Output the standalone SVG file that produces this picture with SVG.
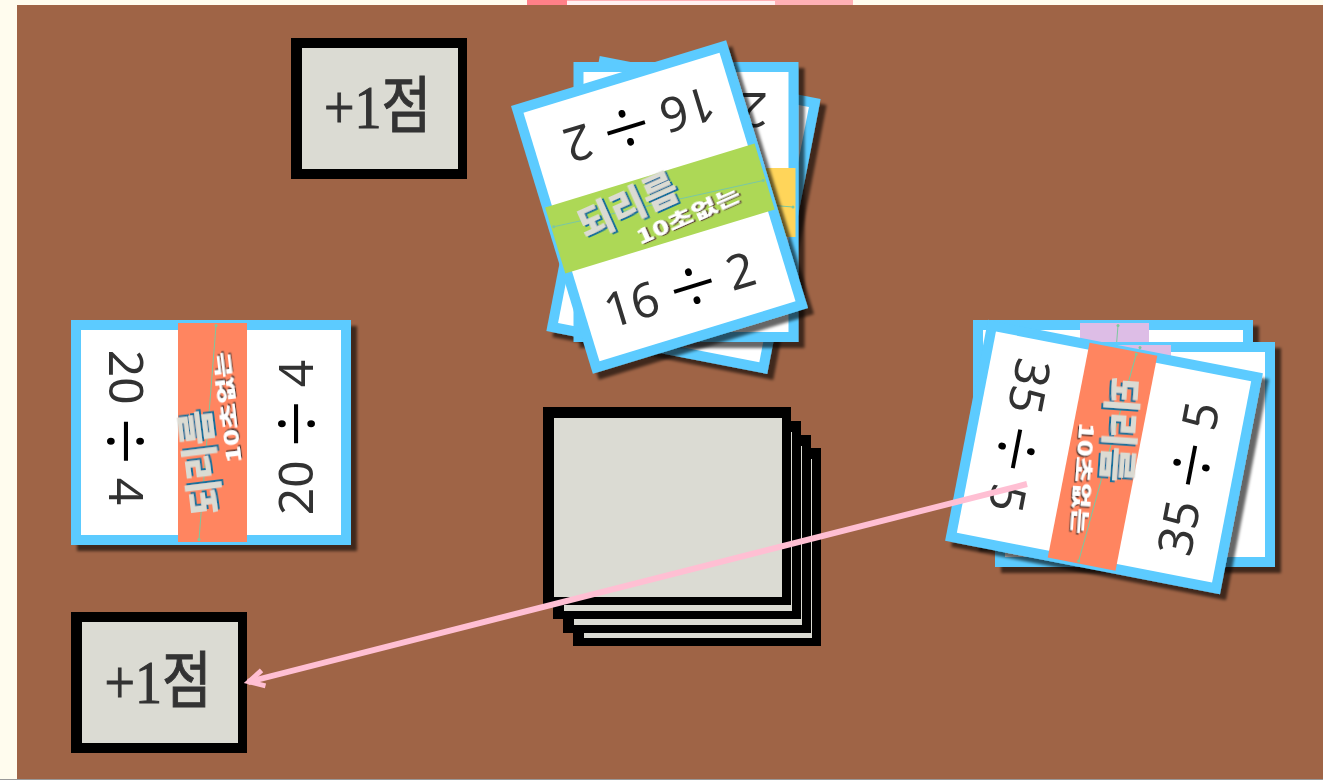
<svg xmlns="http://www.w3.org/2000/svg" xmlns:xlink="http://www.w3.org/1999/xlink" width="1323" height="780" viewBox="0 0 1323 780">
<style>
.num{font-family:"Noto Sans","Liberation Sans",sans-serif;font-size:48px;fill:#333;text-anchor:middle;word-spacing:0}
.div{font-size:84px;font-weight:300;fill:#000}
.pt{font-family:"Liberation Serif","Noto Sans CJK KR",serif;font-size:54px;fill:#333;stroke:#333;stroke-width:.9;text-anchor:middle}
.big{font-family:"Noto Sans CJK KR",sans-serif;font-weight:900;font-size:38px;fill:#DBDBD3;text-anchor:middle}
.small{font-family:"Noto Sans CJK KR",sans-serif;font-weight:900;font-size:26px;fill:#fff;text-anchor:middle}
.box{fill:#000}
.face{fill:#DBDBD3}
.guide{stroke:#7CC8A0;stroke-width:1;fill:none}
.dot{fill:#7CC8A0}
</style>
<defs>
<filter id="sh" x="-15%" y="-15%" width="130%" height="130%"><feDropShadow dx="6" dy="6" stdDeviation="1.5" flood-color="#000" flood-opacity=".6"/></filter>
<filter id="bs"><feDropShadow dx="2" dy="2" stdDeviation=".4" flood-color="#17719C"/></filter>
<filter id="ws"><feDropShadow dx="1.5" dy="1.5" stdDeviation=".5" flood-color="#5a3a30"/></filter>
<g id="base"><rect x="-112.5" y="-140" width="225" height="280" fill="#5BCBFF"/><rect x="-102.5" y="-130" width="205" height="260" fill="#fff"/></g>
<g id="guide"><path class="guide" d="M-107,-12L107,5"/><circle class="dot" cx="-107" cy="-12" r="1.5"/><circle class="dot" cx="107" cy="5" r="1.5"/></g>
<marker id="head" viewBox="-20 -12 24 24" refX="0" refY="0" markerWidth="24" markerHeight="24" markerUnits="userSpaceOnUse" orient="auto"><path d="M-16,-8L-1,0L-16,8" fill="none" stroke="#FFBFD3" stroke-width="5"/></marker>
</defs>
<rect width="1323" height="780" fill="#FFFCEE"/>
<rect x="17" y="5" width="1306" height="774" fill="#9F6446"/>
<rect y="779" width="1323" height="1" fill="#999"/>
<g id="top-strip"><rect x="527" width="326" height="5" fill="#FFB0B5"/><rect x="527" width="40" height="5" fill="#FF8088"/><rect x="567" y="1" width="208" height="4" fill="#FFF0F0"/></g>

<g id="score-top"><rect class="box" x="291" y="38" width="176" height="141"/><rect class="face" x="302" y="48" width="156" height="121"/><text class="pt" transform="translate(377.5,128) scale(1,1.15)">+1점</text></g>
<g id="score-left"><rect class="box" x="71" y="612" width="176" height="141"/><rect class="face" x="82" y="622" width="156" height="121"/><text class="pt" transform="translate(158,703) scale(1,1.15)">+1점</text></g>

<g id="draw-pile">
<rect class="box" x="573" y="448" width="248" height="198"/><rect class="face" x="584" y="459" width="228" height="179"/>
<rect class="box" x="563" y="435" width="248" height="198"/><rect class="face" x="574" y="446" width="228" height="179"/>
<rect class="box" x="553" y="421" width="248" height="198"/><rect class="face" x="564" y="432" width="228" height="179"/>
<rect class="box" x="543" y="407" width="248" height="198"/><rect class="face" x="554" y="418" width="228" height="179"/>
</g>

<g id="top-back-1" filter="url(#sh)"><g transform="translate(683.5,215) rotate(11)"><use href="#base"/></g></g>
<g id="top-back-2" filter="url(#sh)"><g transform="translate(686,202)"><use href="#base"/><rect x="-109.5" y="-34" width="219" height="69" fill="#FFD55A"/><use href="#guide"/><text class="num" transform="translate(68,-92) rotate(180)" y="17">2</text></g></g>
<g id="top-card" filter="url(#sh)"><g transform="translate(659.5,207) rotate(-17)"><use href="#base"/><rect x="-109.5" y="-33" width="219" height="69" fill="#ADD857"/><use href="#guide"/>
<text class="big" filter="url(#bs)" transform="translate(-30,-10) rotate(-7)" y="13">되리름</text><text class="small" filter="url(#ws)" transform="translate(25,17) rotate(-7) scale(1.08,.75)" y="9">10초없는</text>
<text class="num" x="-5" y="102">16 <tspan class="div" dy="13">÷</tspan><tspan dy="-13"> 2</tspan></text><text class="num" transform="rotate(180)" x="-5" y="102">16 <tspan class="div" dy="13">÷</tspan><tspan dy="-13"> 2</tspan></text></g></g>

<g id="left-card" filter="url(#sh)"><g transform="translate(211,432.5) rotate(-90)"><use href="#base"/><rect x="-109.5" y="-33" width="219" height="69" fill="#FF8560"/><use href="#guide"/>
<text class="big" filter="url(#bs)" transform="translate(-30,-10) rotate(-7)" y="13">되리름</text><text class="small" filter="url(#ws)" transform="translate(25,17) rotate(-7) scale(1.08,.75)" y="9">10초없는</text>
<text class="num" x="-5" y="102">20 <tspan class="div" dy="13">÷</tspan><tspan dy="-13"> 4</tspan></text><text class="num" transform="rotate(180)" x="-5" y="102">20 <tspan class="div" dy="13">÷</tspan><tspan dy="-13"> 4</tspan></text></g></g>

<g id="right-back-1" filter="url(#sh)"><g transform="translate(1113,432.5) rotate(-90)"><use href="#base"/><rect x="-109.5" y="-33" width="219" height="69" fill="#DDBDE6"/><use href="#guide"/></g></g>
<g id="right-back-2" filter="url(#sh)"><g transform="translate(1135,454.5) rotate(-90)"><use href="#base"/><rect x="-109.5" y="-33" width="219" height="69" fill="#DDBDE6"/><use href="#guide"/></g></g>
<g id="right-card" filter="url(#sh)"><g transform="translate(1104,457) rotate(101)"><use href="#base"/><rect x="-109.5" y="-33" width="219" height="69" fill="#FF8560"/><use href="#guide"/>
<text class="big" filter="url(#bs)" transform="translate(-30,-10) rotate(-7)" y="13">되리름</text><text class="small" filter="url(#ws)" transform="translate(25,17) rotate(-7) scale(1.08,.75)" y="9">10초없는</text>
<text class="num" x="-5" y="104">35 <tspan class="div" dy="13">÷</tspan><tspan dy="-13"> 5</tspan></text><text class="num" transform="rotate(180)" x="-5" y="104">35 <tspan class="div" dy="13">÷</tspan><tspan dy="-13"> 5</tspan></text></g></g>

<g id="connectors"><path d="M1027,484L248,682" fill="none" stroke="#FFBFD3" stroke-width="6" marker-end="url(#head)"/></g>
</svg>
